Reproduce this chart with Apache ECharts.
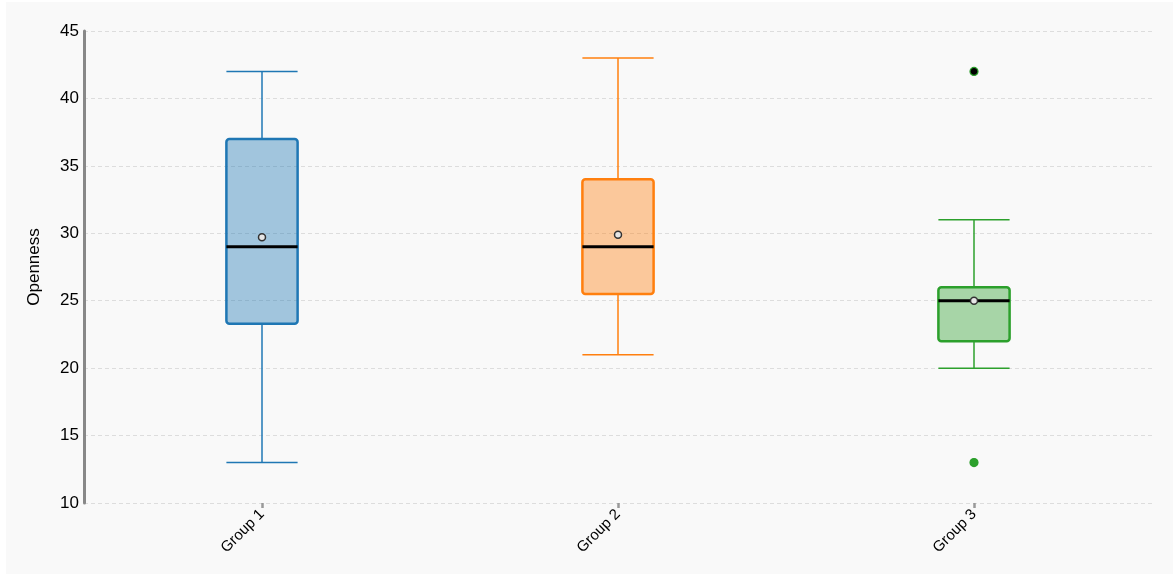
<!DOCTYPE html>
<html>
<head>
<meta charset="utf-8">
<script src="https://cdn.jsdelivr.net/npm/echarts@6/dist/echarts.min.js"></script>
<style>
  html, body { margin: 0; padding: 0; background: #ffffff; }
  #frame { position: absolute; left: 6px; top: 2px; width: 1167px; height: 572px; background: #f9f9f9; }
  #chart { position: absolute; left: 0; top: 0; width: 1174px; height: 576px; }
</style>
</head>
<body>
<div id="frame"></div>
<div id="chart"></div>
<script>
// Groups and their five-number summaries: [lower whisker, Q1, median, Q3, upper whisker]
const categories = ['Group 1', 'Group 2', 'Group 3'];
const lowerWhisker = [13, 21, 20];
const q1 = [23.3, 25.5, 22];
const median = [29, 29, 25];
const q3 = [37, 34, 26];
const upperWhisker = [42, 43, 31];
const means = [29.7, 29.9, 25];
const colors = ['#1f77b4', '#ff7f0e', '#2ca02c'];
const fills = ['rgba(31,119,180,0.4)', 'rgba(255,127,14,0.4)', 'rgba(44,160,44,0.4)'];

// Outliers: [group index, value, fill colour]
const outlierGroup = [2, 2];
const outlierValue = [42, 13];
const outlierFill = ['#000000', '#2ca02c'];

const yTicks = [10, 15, 20, 25, 30, 35, 40, 45];

const boxData = categories.map((c, i) => [i, lowerWhisker[i], q1[i], median[i], q3[i], upperWhisker[i]]);

function renderBox(params, api) {
  const i = api.value(0);
  const x = api.coord([i, 0])[0];
  const band = api.size([1, 0])[0];
  const half = band * 0.1;
  const pLow = api.coord([i, api.value(1)]);
  const pQ1 = api.coord([i, api.value(2)]);
  const pMed = api.coord([i, api.value(3)]);
  const pQ3 = api.coord([i, api.value(4)]);
  const pHigh = api.coord([i, api.value(5)]);
  const col = colors[i];
  const wStyle = { stroke: col, lineWidth: 1.5, fill: null };
  return {
    type: 'group',
    children: [
      { type: 'line', shape: { x1: x, y1: pHigh[1], x2: x, y2: pQ3[1] }, style: wStyle },
      { type: 'line', shape: { x1: x, y1: pQ1[1], x2: x, y2: pLow[1] }, style: wStyle },
      { type: 'line', shape: { x1: x - half, y1: pHigh[1], x2: x + half, y2: pHigh[1] }, style: wStyle },
      { type: 'line', shape: { x1: x - half, y1: pLow[1], x2: x + half, y2: pLow[1] }, style: wStyle },
      { type: 'rect', shape: { x: x - half, y: pQ3[1], width: half * 2, height: pQ1[1] - pQ3[1], r: 3 },
        style: { fill: fills[i], stroke: col, lineWidth: 2.5 } },
      { type: 'line', shape: { x1: x - half, y1: pMed[1], x2: x + half, y2: pMed[1] },
        style: { stroke: '#000', lineWidth: 3 } }
    ]
  };
}

const chart = echarts.init(document.getElementById('chart'));
chart.setOption({
  backgroundColor: 'transparent',
  animation: false,
  grid: { left: 84, right: 22, top: 31, bottom: 73 },
  xAxis: {
    type: 'category',
    data: categories,
    boundaryGap: true,
    axisLine: { show: false },
    axisTick: { show: true, alignWithLabel: true, length: 5, lineStyle: { color: '#999', width: 2.5 } },
    axisLabel: { rotate: 45, margin: 9, fontSize: 15, color: '#000', fontFamily: 'Liberation Sans' },
    splitLine: { show: false }
  },
  yAxis: {
    type: 'value',
    min: 10, max: 45, interval: 5,
    name: 'Openness',
    nameLocation: 'middle',
    nameGap: 41,
    nameTextStyle: { fontSize: 17, color: '#000', fontFamily: 'Liberation Sans' },
    axisLine: { show: true, lineStyle: { color: '#888', width: 3 } },
    axisTick: { show: false },
    axisLabel: { fontSize: 17, color: '#000', margin: 5, fontFamily: 'Liberation Sans',
      formatter: v => yTicks.includes(v) ? String(v) : '' },
    splitLine: { show: true, lineStyle: { color: '#dddddd', type: [4, 3], width: 1 } }
  },
  series: [
    {
      type: 'custom',
      renderItem: renderBox,
      data: boxData,
      encode: { x: 0, y: [1, 2, 3, 4, 5] },
      z: 2
    },
    {
      type: 'scatter',
      symbol: 'circle',
      symbolSize: 7,
      data: means.map((m, i) => [i, m]),
      itemStyle: { color: '#e6e6e6', borderColor: '#333', borderWidth: 1.5, opacity: 1 },
      z: 4
    },
    {
      type: 'scatter',
      symbol: 'circle',
      symbolSize: 8,
      data: outlierValue.map((v, k) => ({
        value: [outlierGroup[k], v],
        itemStyle: { color: outlierFill[k], borderColor: colors[outlierGroup[k]], borderWidth: 1.2, opacity: 1 }
      })),
      z: 4
    }
  ]
});
</script>
</body>
</html>
